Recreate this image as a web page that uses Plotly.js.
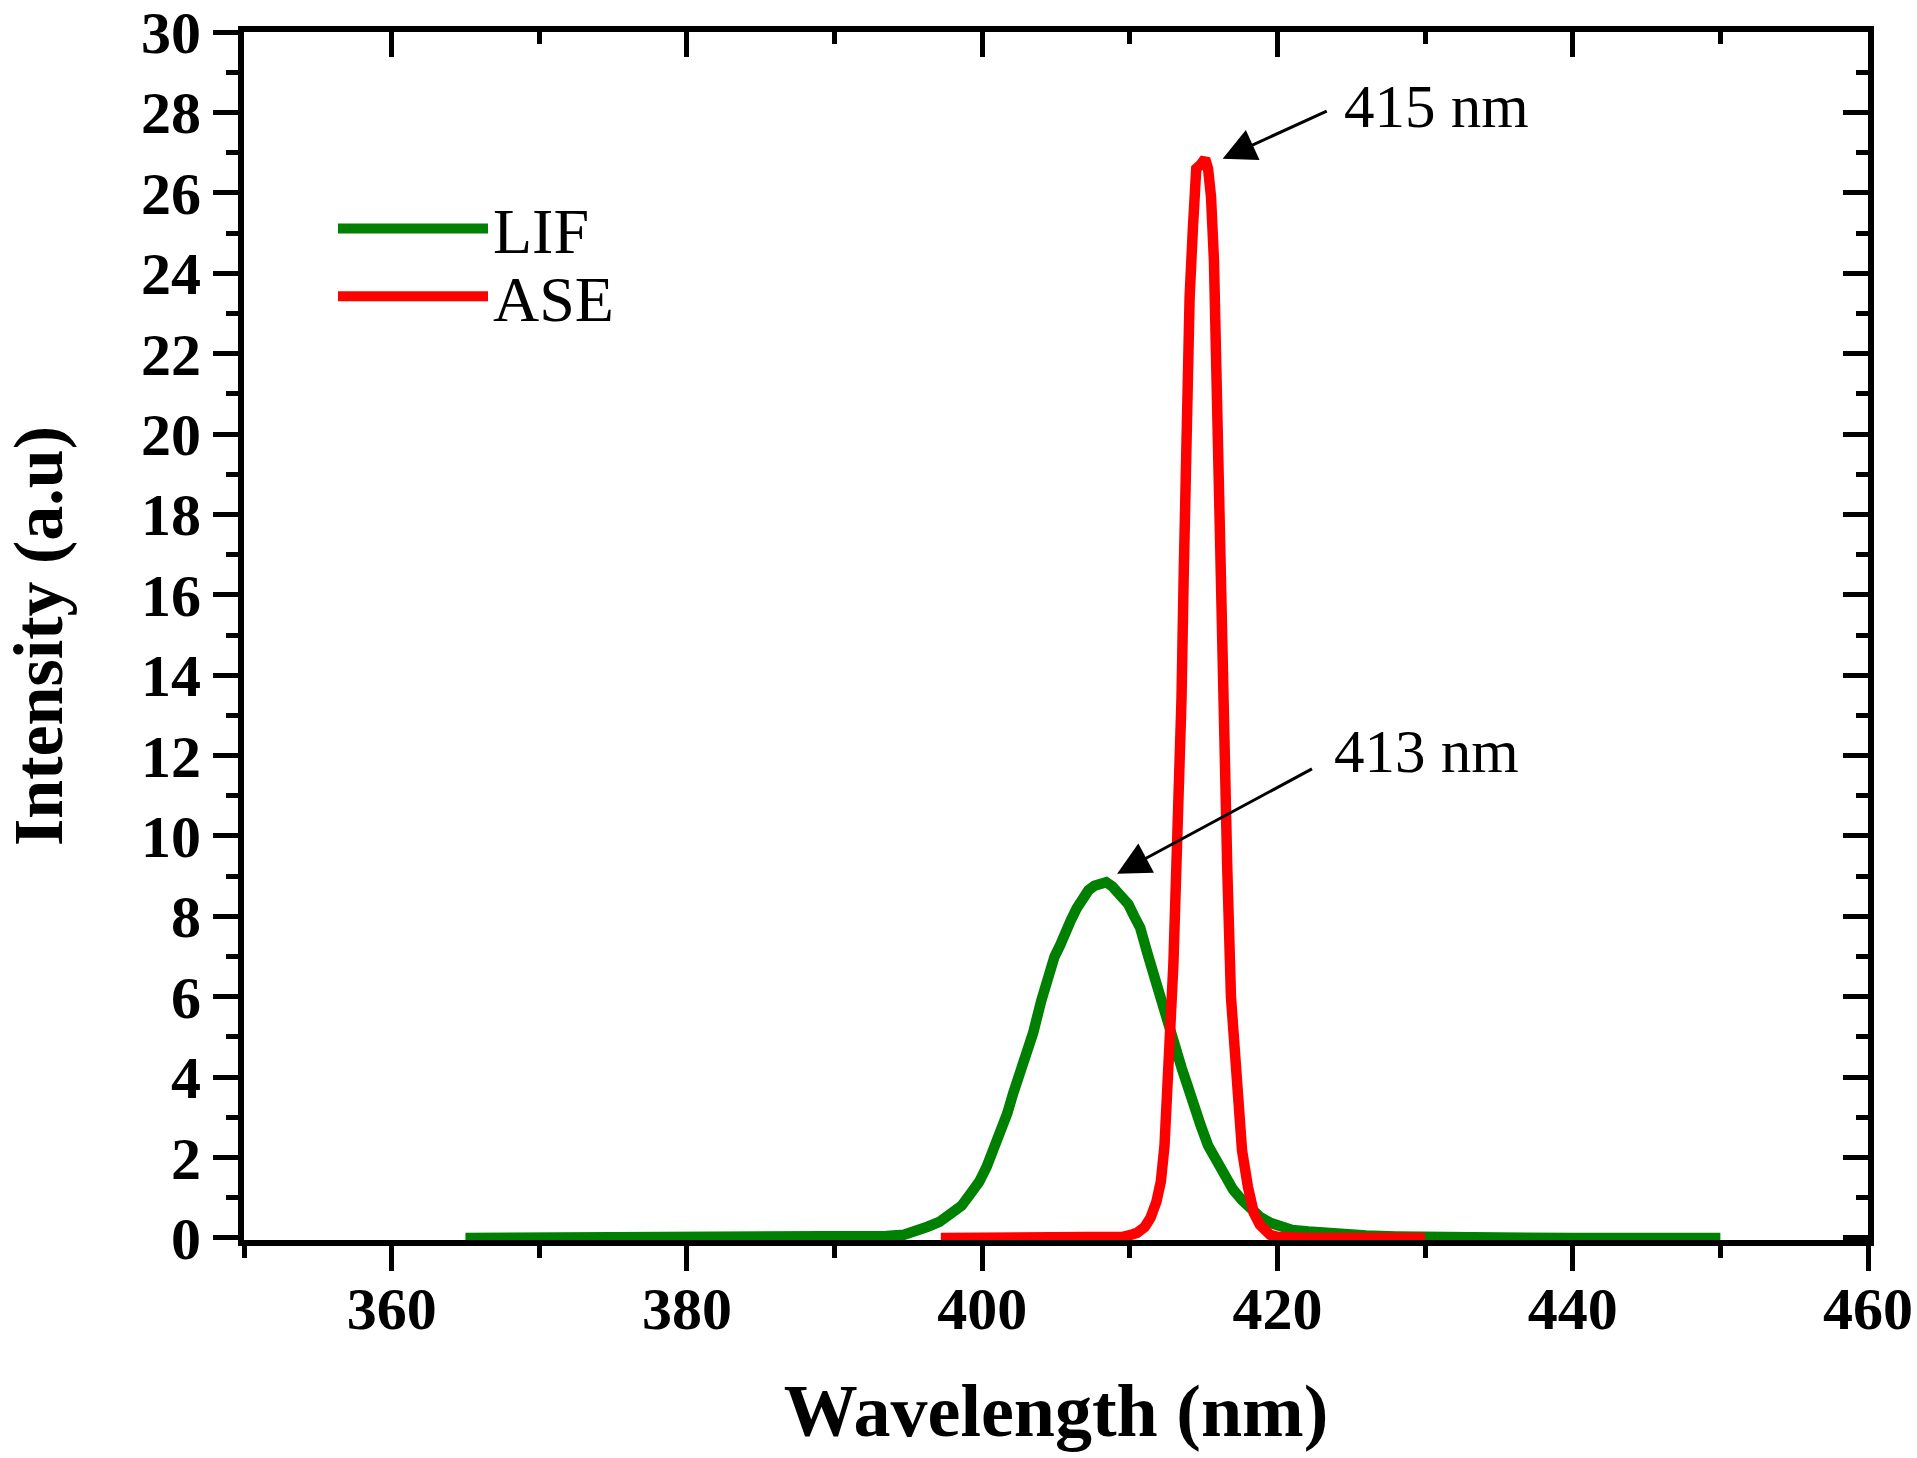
<!DOCTYPE html>
<html>
<head>
<meta charset="utf-8">
<script src="https://cdn.plot.ly/plotly-3.0.1.min.js"></script>
<style>
  html, body { margin: 0; padding: 0; background: #ffffff; }
  #chart { width: 1917px; height: 1458px; }
</style>
</head>
<body>
<div id="chart"></div>
<script>
// ---- Data ----
const lifWavelength = [365, 370, 375, 380, 385, 388, 390, 392, 393.5, 394.7, 395.5, 396.3, 397.1, 397.85, 398.6, 399.2, 399.8, 400.3, 400.8, 401.2, 401.7, 402.1, 402.6, 403.0, 403.45, 404.0, 404.5, 404.9, 405.3, 405.6, 406.0, 406.4, 406.8, 407.2, 407.6, 408.0, 408.4, 408.8, 409.1, 409.5, 409.9, 410.3, 410.7, 411.2, 411.6, 412.0, 412.4, 412.75, 413.15, 413.5, 413.9, 414.3, 414.8, 415.3, 415.9, 416.5, 417.0, 417.6, 418.2, 418.8, 419.5, 420.1, 421.0, 422.1, 423.0, 424.2, 426, 428, 430, 435, 440, 445, 450];
const lifIntensity  = [0, 0, 0, 0, 0, 0.01, 0.02, 0.03, 0.05, 0.08, 0.15, 0.28, 0.4, 0.57, 0.8, 1.1, 1.4, 1.77, 2.2, 2.6, 3.1, 3.6, 4.1, 4.6, 5.1, 5.9, 6.6, 7.0, 7.3, 7.6, 7.9, 8.2, 8.47, 8.65, 8.76, 8.8, 8.85, 8.75, 8.63, 8.48, 8.3, 8.0, 7.72, 7.07, 6.55, 6.0, 5.5, 5.08, 4.66, 4.24, 3.8, 3.3, 2.8, 2.3, 1.9, 1.52, 1.2, 0.94, 0.7, 0.53, 0.38, 0.28, 0.2, 0.16, 0.13, 0.1, 0.06, 0.04, 0.02, 0.01, 0, 0, 0];

const aseWavelength = [397.2, 400, 405, 409, 409.5, 410, 410.5, 411, 411.4, 411.8, 412.1, 412.35, 412.55, 412.75, 412.95, 413.15, 413.4, 413.5, 413.65, 413.77, 413.86, 414.05, 414.27, 414.5, 414.8, 415.1, 415.3, 415.5, 415.7, 415.85, 415.96, 416.05, 416.2, 416.4, 416.6, 416.85, 417.1, 417.3, 417.6, 418.0, 418.4, 418.8, 419.1, 419.5, 420, 421, 422, 426, 430];
const aseIntensity  = [0, 0, 0, 0.01, 0.03, 0.07, 0.13, 0.27, 0.5, 0.9, 1.4, 2.3, 3.5, 5.1, 6.8, 9.2, 11.7, 13.4, 16.5, 20.1, 21.8, 23.4, 25.1, 26.6, 26.7, 26.85, 26.6, 25.9, 24.3, 21.8, 20.1, 16.5, 13.35, 11.7, 9.2, 6.0, 4.66, 3.42, 2.18, 1.27, 0.62, 0.33, 0.2, 0.08, 0.03, 0.01, 0, 0, 0];

const seriesNames = ['LIF', 'ASE'];
const seriesColors = ['#008000', '#FF0000'];

const peakLabels = ['415 nm', '413 nm'];
const peakArrowHeads = [[416.29, 26.85], [409.14, 9.06]];
const peakArrowTails = [[423.44, 28.05], [422.44, 11.69]];
const peakLabelPos = [[424.37, 28.15], [423.7, 12.1]];

const xTitle = 'Wavelength (nm)';
const yTitle = 'Intensity (a.u)';

// ---- Styling ----
const serif = 'Liberation Serif, Times New Roman, serif';
const tickFont = { family: serif, size: 60, color: '#000', weight: 'bold' };
const xRange = [350, 460];
const yRange = [-0.05, 30];

const traces = [
  { x: lifWavelength, y: lifIntensity, name: seriesNames[0], type: 'scatter', mode: 'lines',
    line: { color: seriesColors[0], width: 10.5 }, xaxis: 'x', yaxis: 'y', legend: 'legend' },
  { x: aseWavelength, y: aseIntensity, name: seriesNames[1], type: 'scatter', mode: 'lines',
    line: { color: seriesColors[1], width: 10.5 }, xaxis: 'x2', yaxis: 'y2', legend: 'legend2' }
];

const commonAxis = {
  showline: true, linecolor: '#000', linewidth: 6,
  showgrid: false, zeroline: false,
  tickcolor: '#000', tickwidth: 5, ticklen: 25,
  tickfont: tickFont, fixedrange: true, ticklabeloverflow: 'allow'
};

const annotations = [];
for (let i = 0; i < peakLabels.length; i++) {
  annotations.push({
    xref: 'x', yref: 'y', axref: 'x', ayref: 'y',
    x: peakArrowHeads[i][0], y: peakArrowHeads[i][1],
    ax: peakArrowTails[i][0], ay: peakArrowTails[i][1],
    text: '', showarrow: true, arrowhead: 2, arrowsize: 2.2, arrowwidth: 3, arrowcolor: '#000'
  });
  annotations.push({
    xref: 'x', yref: 'y', x: peakLabelPos[i][0], y: peakLabelPos[i][1],
    xanchor: 'left', yanchor: 'middle', showarrow: false,
    text: peakLabels[i], font: { family: serif, size: 61, color: '#000' }
  });
}

const legendBase = {
  xanchor: 'left', yanchor: 'middle',
  bgcolor: 'rgba(0,0,0,0)', borderwidth: 0,
  font: { family: serif, size: 64, color: '#000' },
  itemwidth: 150
};

const layout = {
  width: 1917, height: 1458,
  margin: { l: 244, r: 49, t: 32, b: 218 },
  paper_bgcolor: '#ffffff', plot_bgcolor: '#ffffff',
  showlegend: true,
  legend: Object.assign({}, legendBase, { x: 0.0548, y: 0.837 }),
  legend2: Object.assign({}, legendBase, { x: 0.0548, y: 0.781 }),
  xaxis: Object.assign({}, commonAxis, {
    range: xRange, dtick: 20, tick0: 0, ticks: 'outside', side: 'bottom', anchor: 'y',
    ticklabelstandoff: -14,
    minor: { dtick: 10, ticks: 'outside', ticklen: 12, tickwidth: 5, tickcolor: '#000' },
    title: { text: xTitle, font: { family: serif, size: 74, color: '#000', weight: 'bold' }, standoff: 45 }
  }),
  yaxis: Object.assign({}, commonAxis, {
    range: yRange, dtick: 2, tick0: 0, ticks: 'outside', side: 'left', anchor: 'x',
    minor: { dtick: 1, ticks: 'outside', ticklen: 12, tickwidth: 5, tickcolor: '#000' },
    title: { text: yTitle, font: { family: serif, size: 70, color: '#000', weight: 'bold' }, standoff: 70 }
  }),
  xaxis2: Object.assign({}, commonAxis, {
    range: xRange, dtick: 20, tick0: 0, ticks: 'inside', side: 'top', overlaying: 'x', anchor: 'y2',
    showticklabels: false,
    minor: { dtick: 10, ticks: 'inside', ticklen: 12, tickwidth: 5, tickcolor: '#000' }
  }),
  yaxis2: Object.assign({}, commonAxis, {
    range: yRange, dtick: 2, tick0: 0, ticks: 'inside', side: 'right', overlaying: 'y', anchor: 'x2',
    showticklabels: false,
    minor: { dtick: 1, ticks: 'inside', ticklen: 12, tickwidth: 5, tickcolor: '#000' }
  }),
  annotations: annotations
};

Plotly.newPlot('chart', traces, layout, { staticPlot: true, displayModeBar: false });
</script>
</body>
</html>
